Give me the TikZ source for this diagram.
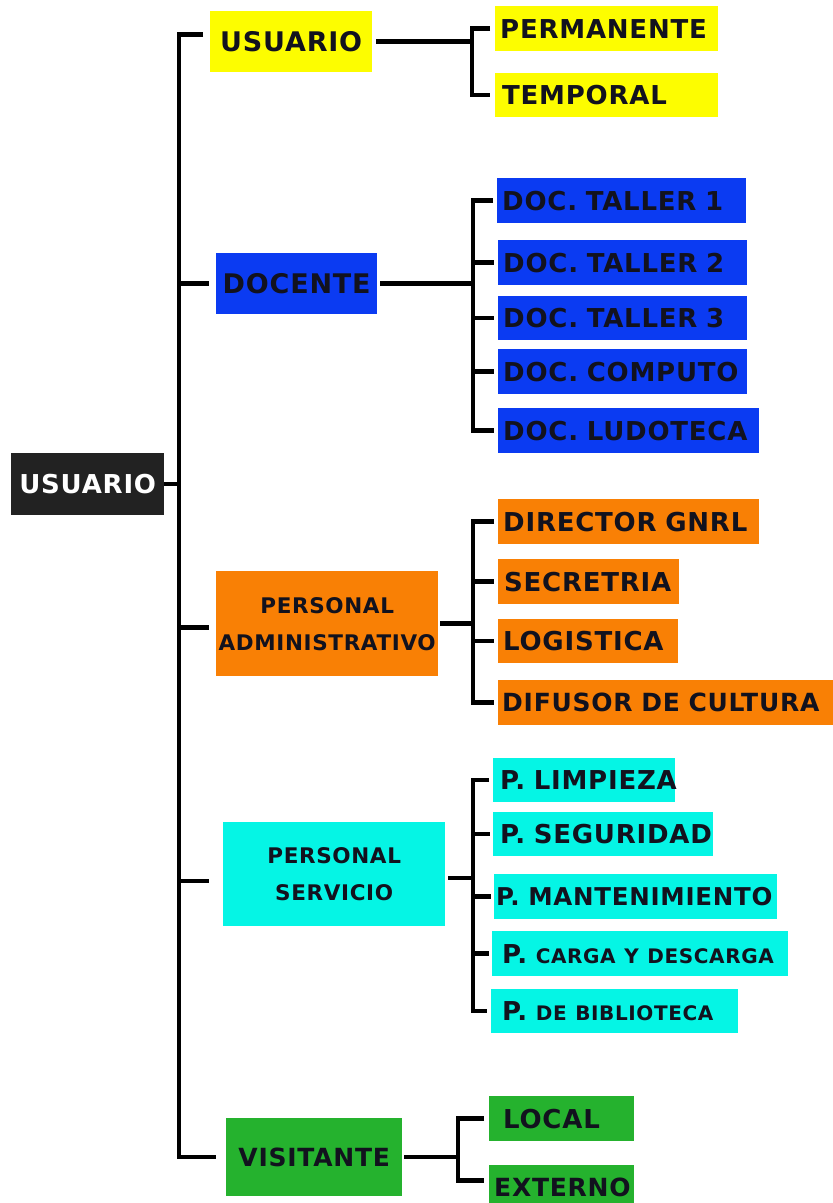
\documentclass[tikz,border=0pt]{standalone}
\usepackage{fontspec}
\setmainfont{DejaVu Sans}[LetterSpace=3]
\definecolor{yellowc}{HTML}{FDFD00}
\definecolor{bluec}{HTML}{0B3BF2}
\definecolor{orangec}{HTML}{F98005}
\definecolor{cyanc}{HTML}{05F5E5}
\definecolor{greenc}{HTML}{25B22E}
\definecolor{darkc}{HTML}{222222}
\definecolor{txtc}{HTML}{12121E}
\tikzset{
  itm/.style={rectangle, inner sep=0pt, align=left, text=txtc,
    font=\fontsize{26}{26}\selectfont\bfseries},
  mainbox/.style={rectangle, inner sep=0pt, align=center, text=txtc,
    font=\fontsize{27}{27}\selectfont\bfseries},
  twoline/.style={font=\fontsize{21.5}{37}\selectfont\bfseries},
  conn/.style={line width=4.5pt, line cap=butt, line join=miter, draw=black},
}
\newcommand\itemb[8]{\node[itm, fill=#7, minimum width=#4pt, minimum height=#5pt,
  text width=#4pt, anchor=north west] (#1) at (#2,#3) {\mbox{\hspace*{#6pt}#8}};}
\newcommand\mainb[8]{\node[mainbox, fill=#6, minimum width=#4pt, minimum height=#5pt,
  anchor=north west, #7] (#1) at (#2,#3) {#8};}
\newcommand\smw[1]{{\fontsize{20}{20}\selectfont #1}}
\begin{document}
\begin{tikzpicture}[x=1pt,y=-1pt]
\useasboundingbox[fill=white] (0,0) rectangle (833,1203);
% level 0 and 1
\mainb{root}{11}{453}{153}{62}{darkc}{text=white, font=\fontsize{26}{26}\selectfont\bfseries}{USUARIO}
\mainb{u1}{210}{11}{162}{61}{yellowc}{}{USUARIO}
\mainb{doc}{216}{253}{161}{61}{bluec}{}{DOCENTE}
\mainb{adm}{216}{571}{222}{105}{orangec}{twoline}{PERSONAL\\ADMINISTRATIVO}
\mainb{srv}{223}{822}{222}{104}{cyanc}{twoline}{PERSONAL\\SERVICIO}
\mainb{vis}{226}{1118}{176}{78}{greenc}{font=\fontsize{25}{25}\selectfont\bfseries}{VISITANTE}
% level 2
\itemb{perm}{495}{6}{223}{45}{5}{yellowc}{PERMANENTE}
\itemb{temp}{495}{73}{223}{44}{7}{yellowc}{TEMPORAL}
\itemb{dt1}{497}{178}{249}{45}{5}{bluec}{DOC. TALLER 1}
\itemb{dt2}{498}{240}{249}{45}{5}{bluec}{DOC. TALLER 2}
\itemb{dt3}{498}{296}{249}{44}{5}{bluec}{DOC. TALLER 3}
\itemb{dc}{498}{349}{249}{45}{5}{bluec}{DOC. COMPUTO}
\itemb{dl}{498}{408}{261}{45}{5}{bluec}{DOC. LUDOTECA}
\itemb{dir}{498}{499}{261}{45}{5}{orangec}{DIRECTOR GNRL}
\itemb{sec}{498}{559}{181}{45}{6}{orangec}{SECRETRIA}
\itemb{log}{498}{619}{180}{44}{5}{orangec}{LOGISTICA}
\itemb{dif}{498}{680}{342}{45}{4}{orangec}{\fontsize{25}{25}\selectfont DIFUSOR DE CULTURA}
\itemb{pl}{493}{758}{182}{44}{7}{cyanc}{P. LIMPIEZA}
\itemb{ps}{493}{812}{220}{44}{7}{cyanc}{P. SEGURIDAD}
\itemb{pm}{494}{874}{283}{45}{2}{cyanc}{\fontsize{24.5}{24.5}\selectfont P. MANTENIMIENTO}
\itemb{pc}{492}{931}{296}{45}{10}{cyanc}{P. \smw{CARGA Y DESCARGA}}
\itemb{pb}{491}{989}{247}{44}{11}{cyanc}{P. \smw{DE BIBLIOTECA}}
\itemb{loc}{489}{1096}{145}{45}{14}{greenc}{LOCAL}
\itemb{ext}{489}{1165}{145}{45}{5}{greenc}{\fontsize{25}{25}\selectfont EXTERNO}
% buses
\coordinate (bus) at (179,0);
\coordinate (busU) at (472,0);
\coordinate (busD) at (473,0);
\coordinate (busV) at (458,0);
% level 1 connectors
\coordinate (t1) at ([shift={(-7pt,7pt)}]u1.west);
\draw[conn] (root.east) -- (root.east -| bus);
\draw[conn] (t1) -- (t1 -| bus) -- (vis.west -| bus) -- ([xshift=-10pt]vis.west);
\draw[conn] (doc.west -| bus) -- ([xshift=-7pt]doc.west);
\draw[conn] ([yshift=-4pt]adm.west -| bus) -- ([shift={(-7pt,-4pt)}]adm.west);
\draw[conn] ([yshift=-7pt]srv.west -| bus) -- ([shift={(-14pt,-7pt)}]srv.west);
% usuario group
\draw[conn] ([xshift=4pt]u1.east) -- (u1.east -| busU);
\draw[conn] ([xshift=-5pt]perm.west) -- (perm.west -| busU) -- (temp.west -| busU) -- ([xshift=-5pt]temp.west);
% docente group
\draw[conn] ([xshift=3pt]doc.east) -- (doc.east -| busD);
\draw[conn] ([xshift=-4pt]dt1.west) -- (dt1.west -| busD) -- (dl.west -| busD) -- ([xshift=-4pt]dl.west);
\foreach \n in {dt2,dt3,dc} \draw[conn] (\n.west -| busD) -- ([xshift=-4pt]\n.west);
% admin group
\draw[conn] ([xshift=2pt]adm.east) -- (adm.east -| busD);
\draw[conn] ([xshift=-4pt]dir.west) -- (dir.west -| busD) -- (dif.west -| busD) -- ([xshift=-4pt]dif.west);
\foreach \n in {sec,log} \draw[conn] (\n.west -| busD) -- ([xshift=-4pt]\n.west);
% servicio group
\draw[conn] ([shift={(3pt,-4pt)}]srv.east) -- ([yshift=-4pt]srv.east -| busD);
\draw[conn] ([xshift=-4pt]pl.west) -- (pl.west -| busD) -- (pb.west -| busD) -- ([xshift=-4pt]pb.west);
\foreach \n in {ps,pm,pc} \draw[conn] (\n.west -| busD) -- ([xshift=-3pt]\n.west);
% visitante group
\draw[conn] ([xshift=2pt]vis.east) -- (vis.east -| busV);
\draw[conn] ([xshift=-5pt]loc.west) -- (loc.west -| busV) -- ([yshift=7pt]ext.west -| busV) -- ([shift={(-5pt,7pt)}]ext.west);
\end{tikzpicture}
\end{document}
